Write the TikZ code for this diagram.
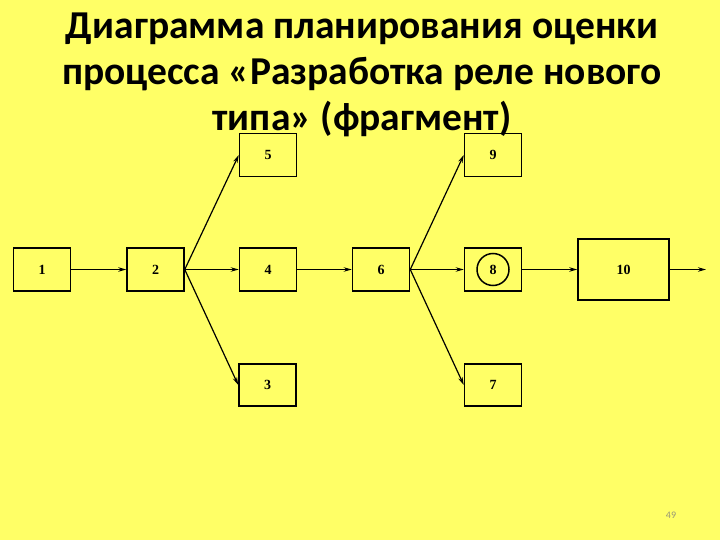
\documentclass[tikz,border=0pt]{standalone}
\usepackage{fontspec}
\setmainfont{Liberation Serif}
\newfontfamily\titlefont{Carlito}
\usetikzlibrary{arrows.meta}
\definecolor{bgyellow}{RGB}{255,255,102}
\definecolor{pgnum}{RGB}{150,150,120}
\tikzset{
  box/.style={draw=black, line width=1.5pt, minimum width=57pt, minimum height=43pt, inner sep=0pt, font=\bfseries\fontsize{14}{16}\selectfont},
  conn/.style={line width=1.2pt, -{Stealth[length=8pt,width=4.5pt]}},
}
\begin{document}
\begin{tikzpicture}[x=1pt,y=-1pt]
\fill[bgyellow] (0,0) rectangle (720,540);
\useasboundingbox (0,0) rectangle (720,540);
\node[anchor=north, align=center, inner sep=0pt, font=\titlefont\bfseries\fontsize{39.5}{46}\selectfont] (title) at (362,13)
  {Диаграмма планирования оценки\\процесса «Разработка реле нового\\типа» (фрагмент)};
\node[box] (n1) at (42,269.5) {1};
\node[box] (n2) at (155.5,269.5) {2};
\node[box] (n5) at (268,155) {5};
\node[box] (n4) at (268,269.5) {4};
\node[box, minimum height=42pt] (n3) at (267.5,385) {3};
\node[box] (n6) at (381,269.5) {6};
\node[box] (n9) at (493,155) {9};
\node[box] (n8) at (493,269.5) {};
\node[circle, draw=black, line width=1.5pt, minimum size=32pt, inner sep=0pt, font=\bfseries\fontsize{14}{16}\selectfont] (c8) at (n8.center) {8};
\node[box, minimum height=42pt] (n7) at (493,385) {7};
\node[box, minimum width=91pt, minimum height=61pt] (n10) at (623.5,269.5) {10};
\coordinate (out) at (706,269.5);
\draw[conn] (n1) -- (n2);
\draw[conn] (n2.east) -- (n5.west);
\draw[conn] (n2.east) -- (n4.west);
\draw[conn] (n2.east) -- (n3.west);
\draw[conn] (n4) -- (n6);
\draw[conn] (n6.east) -- (n9.west);
\draw[conn] (n6.east) -- (n8.west);
\draw[conn] (n6.east) -- (n7.west);
\draw[conn] (n8) -- (n10);
\draw[conn] (n10) -- (out);
\node[font=\titlefont\fontsize{10}{12}\selectfont, text=pgnum] (pg) at (671,515) {49};
\end{tikzpicture}
\end{document}
